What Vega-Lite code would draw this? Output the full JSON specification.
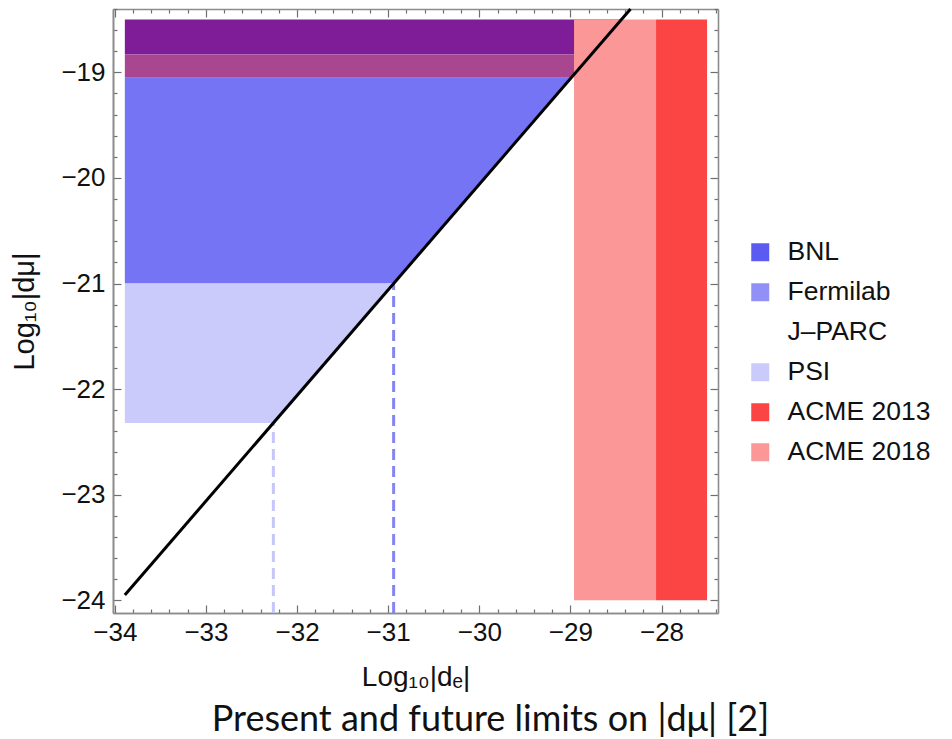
{
  "$schema": "https://vega.github.io/schema/vega-lite/v6.json",
  "autosize": {"type": "none"},
  "width": 605,
  "height": 604,
  "padding": {"left": 113, "top": 9, "right": 234, "bottom": 126},
  "background": "white",
  "config": {
    "font": "Liberation Sans",
    "view": {"stroke": null},
    "axis": {"grid": false, "labelFont": "Liberation Sans", "titleFont": "Liberation Sans", "labelColor": "#111", "titleColor": "#111", "domainColor": "#8c8c8c", "domainWidth": 1.6, "tickColor": "#6f6f6f", "tickWidth": 1.2, "labelOverlap": false, "labelFlush": false}
  },
  "title": {"text": "Present and future limits on |dμ| [2]", "orient": "bottom", "anchor": "middle", "font": "Lato", "fontSize": 36, "fontWeight": "normal", "color": "#111", "dx": 75, "offset": 12},
  "datasets": {
    "bands": [
      {"region": "BNL + ACME 2013", "y": -18.5, "x": -33.89, "x2": -28.44},
      {"region": "BNL + ACME 2013", "y": -18.83, "x": -33.89, "x2": -28.77},
      {"region": "BNL + ACME 2018", "y": -18.83, "x": -33.89, "x2": -28.77},
      {"region": "BNL + ACME 2018", "y": -19.05, "x": -33.89, "x2": -28.99},
      {"region": "BNL + Fermilab", "y": -19.05, "x": -33.89, "x2": -28.99},
      {"region": "BNL + Fermilab", "y": -21.0, "x": -33.89, "x2": -30.94},
      {"region": "PSI", "y": -21.0, "x": -33.89, "x2": -30.94},
      {"region": "PSI", "y": -22.32, "x": -33.89, "x2": -32.26}
    ],
    "acme": [
      {"region": "ACME 2018", "x": -28.96, "x2": -28.06, "y": -24.0, "y2": -18.5},
      {"region": "ACME 2013", "x": -28.06, "x2": -27.5, "y": -24.0, "y2": -18.5}
    ],
    "dashes": [
      {"limit": "Fermilab", "x": -30.94, "y": -24.12, "y2": -21.0},
      {"limit": "PSI", "x": -32.26, "y": -24.12, "y2": -22.32}
    ],
    "diagonal": [
      {"x": -33.89, "y": -23.95},
      {"x": -28.34, "y": -18.4}
    ]
  },
  "layer": [
    {
      "data": {"name": "bands"},
      "mark": {"type": "area", "orient": "horizontal", "opacity": 1},
      "encoding": {
        "y": {"field": "y", "type": "quantitative", "scale": {"domain": [-24.12, -18.4], "nice": false, "zero": false},
          "axis": {"orient": "left", "title": "Log₁₀|dμ|", "titleFontSize": 29, "titleFontWeight": "normal", "titlePadding": 21, "labelFontSize": 26, "labelPadding": 8, "ticks": false,
            "values": [-24, -23, -22, -21, -20, -19]}},
        "x": {"field": "x", "type": "quantitative", "stack": null, "scale": {"domain": [-34.02, -27.38], "nice": false, "zero": false},
          "axis": {"orient": "bottom", "title": "Log₁₀|dₑ|", "titleFontSize": 28, "titleFontWeight": "normal", "titlePadding": 18, "labelFontSize": 26, "labelPadding": 6, "ticks": false,
            "values": [-34, -33, -32, -31, -30, -29, -28]}},
        "x2": {"field": "x2"},
        "color": {"field": "region", "type": "nominal",
          "scale": {"domain": ["BNL", "Fermilab", "J–PARC", "PSI", "ACME 2013", "ACME 2018", "BNL + ACME 2013", "BNL + ACME 2018", "BNL + Fermilab"],
                    "range": ["#5b5bf2", "#9090f6", "#ffffff", "#cacafb", "#fb4545", "#fb9797", "#7f1c98", "#a8478f", "#7474f4"]},
          "legend": {"values": ["BNL", "Fermilab", "J–PARC", "PSI", "ACME 2013", "ACME 2018"], "title": null, "orient": "none", "legendX": 634, "legendY": 230,
            "symbolType": "square", "symbolSize": 324, "symbolStrokeWidth": 0, "symbolOpacity": 1, "labelFontSize": 26.5, "labelFont": "Liberation Sans", "labelColor": "#111", "labelOffset": 14, "rowPadding": 13, "padding": 0}}
      }
    },
    {
      "data": {"name": "acme"},
      "mark": {"type": "rect"},
      "encoding": {
        "x": {"field": "x", "type": "quantitative",
          "axis": {"orient": "top", "offset": -604, "labels": false, "title": null,
            "values": [-34,-33.8,-33.6,-33.4,-33.2,-33,-32.8,-32.6,-32.4,-32.2,-32,-31.8,-31.6,-31.4,-31.2,-31,-30.8,-30.6,-30.4,-30.2,-30,-29.8,-29.6,-29.4,-29.2,-29,-28.8,-28.6,-28.4,-28.2,-28,-27.8,-27.6,-27.4],
            "tickSize": {"condition": {"test": "abs(datum.value - round(datum.value)) < 0.001", "value": 8}, "value": 4}}},
        "x2": {"field": "x2"},
        "y": {"field": "y", "type": "quantitative",
          "axis": {"orient": "right", "offset": -605, "labels": false, "title": null,
            "values": [-24,-23.8,-23.6,-23.4,-23.2,-23,-22.8,-22.6,-22.4,-22.2,-22,-21.8,-21.6,-21.4,-21.2,-21,-20.8,-20.6,-20.4,-20.2,-20,-19.8,-19.6,-19.4,-19.2,-19,-18.8,-18.6,-18.4],
            "tickSize": {"condition": {"test": "abs(datum.value - round(datum.value)) < 0.001", "value": 8}, "value": 4}}},
        "y2": {"field": "y2"},
        "color": {"field": "region", "type": "nominal",
          "legend": {"values": ["BNL", "Fermilab", "J–PARC", "PSI", "ACME 2013", "ACME 2018"], "title": null, "orient": "none", "legendX": 634, "legendY": 230,
            "symbolType": "square", "symbolSize": 324, "symbolStrokeWidth": 0, "symbolOpacity": 1, "labelFontSize": 26.5, "labelFont": "Liberation Sans", "labelColor": "#111", "labelOffset": 14, "rowPadding": 13, "padding": 0}}
      }
    },
    {
      "data": {"name": "dashes"},
      "mark": {"type": "rule", "strokeWidth": 3, "strokeDash": [11, 6]},
      "encoding": {
        "x": {"field": "x", "type": "quantitative",
          "axis": {"orient": "bottom", "offset": -604, "labels": false, "title": null,
            "values": [-34,-33.8,-33.6,-33.4,-33.2,-33,-32.8,-32.6,-32.4,-32.2,-32,-31.8,-31.6,-31.4,-31.2,-31,-30.8,-30.6,-30.4,-30.2,-30,-29.8,-29.6,-29.4,-29.2,-29,-28.8,-28.6,-28.4,-28.2,-28,-27.8,-27.6,-27.4],
            "tickSize": {"condition": {"test": "abs(datum.value - round(datum.value)) < 0.001", "value": 8}, "value": 4}}},
        "y": {"field": "y", "type": "quantitative",
          "axis": {"orient": "left", "offset": -605, "labels": false, "title": null,
            "values": [-24,-23.8,-23.6,-23.4,-23.2,-23,-22.8,-22.6,-22.4,-22.2,-22,-21.8,-21.6,-21.4,-21.2,-21,-20.8,-20.6,-20.4,-20.2,-20,-19.8,-19.6,-19.4,-19.2,-19,-18.8,-18.6,-18.4],
            "tickSize": {"condition": {"test": "abs(datum.value - round(datum.value)) < 0.001", "value": 8}, "value": 4}}},
        "y2": {"field": "y2"},
        "stroke": {"field": "limit", "type": "nominal", "scale": {"domain": ["Fermilab", "PSI"], "range": ["#8585f2", "#c6c6fa"]}, "legend": null}
      }
    },
    {
      "data": {"name": "diagonal"},
      "mark": {"type": "line", "color": "#000000", "strokeWidth": 3},
      "encoding": {
        "x": {"field": "x", "type": "quantitative", "axis": null},
        "y": {"field": "y", "type": "quantitative", "axis": null}
      }
    }
  ],
  "resolve": {"axis": {"x": "independent", "y": "independent"}}
}
